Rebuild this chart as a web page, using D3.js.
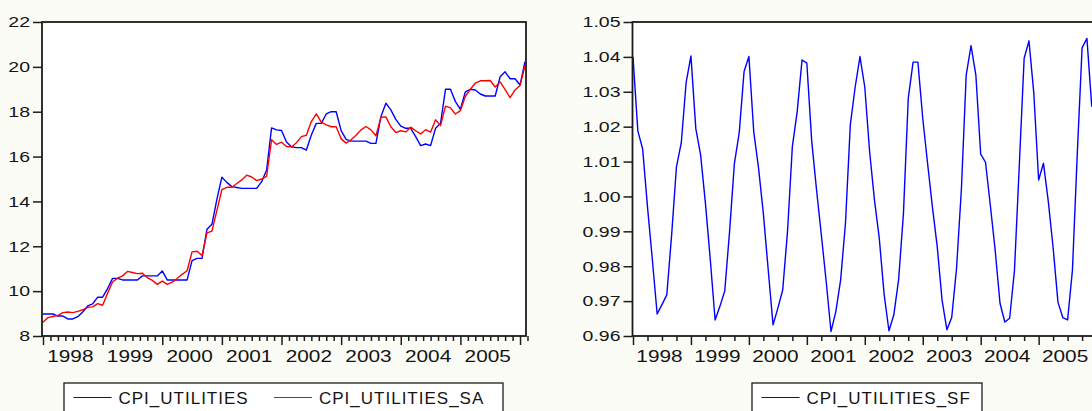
<!DOCTYPE html>
<html>
<head>
<meta charset="utf-8">
<script src="https://cdn.jsdelivr.net/npm/d3@7"></script>
<style>
  html, body { margin: 0; padding: 0; background: #fcfcf7; overflow: hidden; }
  svg { display: block; }
  text { font-family: "Liberation Sans", Arial, sans-serif; fill: #141414; }
</style>
</head>
<body>
<svg id="chart" width="1092" height="411"></svg>
<script>
// Monthly observations, 1998M01 onwards
const yearLabels = ["1998", "1999", "2000", "2001", "2002", "2003", "2004", "2005"];

const cpiUtilities = [
  8.98, 8.98, 8.98, 8.89, 8.89, 8.76, 8.76, 8.86, 9.07, 9.34, 9.43, 9.73,
  9.73, 10.11, 10.57, 10.57, 10.50, 10.50, 10.50, 10.50, 10.68, 10.68, 10.68, 10.68,
  10.90, 10.50, 10.50, 10.50, 10.50, 10.50, 11.36, 11.46, 11.46, 12.76, 12.98, 14.10,
  15.08, 14.85, 14.66, 14.62, 14.58, 14.58, 14.58, 14.58, 14.88, 15.40, 17.28, 17.19,
  17.16, 16.65, 16.44, 16.40, 16.40, 16.29, 16.96, 17.48, 17.48, 17.90, 18.00, 18.00,
  17.16, 16.77, 16.69, 16.69, 16.69, 16.69, 16.59, 16.59, 17.78, 18.38, 18.08, 17.66,
  17.36, 17.26, 17.26, 16.89, 16.49, 16.56, 16.49, 17.26, 17.48, 19.00, 19.00, 18.45,
  18.11, 18.89, 19.00, 18.97, 18.79, 18.70, 18.70, 18.70, 19.56, 19.78, 19.47, 19.47,
  19.19, 20.23
];

const cpiUtilitiesSA = [
  8.61, 8.82, 8.87, 8.92, 9.04, 9.07, 9.04, 9.10, 9.17, 9.28, 9.30, 9.44,
  9.37, 9.91, 10.41, 10.58, 10.68, 10.88, 10.83, 10.78, 10.80, 10.60, 10.48, 10.30,
  10.45, 10.30, 10.40, 10.56, 10.75, 10.91, 11.75, 11.78, 11.59, 12.60, 12.68, 13.60,
  14.53, 14.63, 14.63, 14.80, 14.96, 15.17, 15.09, 14.93, 15.00, 15.12, 16.75, 16.54,
  16.64, 16.45, 16.43, 16.62, 16.89, 16.95, 17.56, 17.90, 17.54, 17.41, 17.33, 17.33,
  16.79, 16.60, 16.75, 16.95, 17.19, 17.34, 17.19, 16.93, 17.75, 17.77, 17.33, 17.07,
  17.15, 17.10, 17.31, 17.15, 17.01, 17.20, 17.09, 17.64, 17.38, 18.25, 18.17, 17.90,
  18.05, 18.69, 19.00, 19.27, 19.38, 19.38, 19.39, 19.10, 19.33, 18.98, 18.63, 18.97,
  19.17, 20.05
];

const cpiUtilitiesSF = [
  1.0400, 1.0188, 1.0136, 0.9970, 0.9820, 0.9663, 0.9690, 0.9718, 0.9890, 1.0085, 1.0154, 1.0326,
  1.0403, 1.0195, 1.0119, 0.9980, 0.9820, 0.9646, 0.9685, 0.9729, 0.9900, 1.0095, 1.0183, 1.0358,
  1.0401, 1.0186, 1.0081, 0.9950, 0.9790, 0.9632, 0.9680, 0.9732, 0.9900, 1.0143, 1.0243, 1.0391,
  1.0382, 1.0160, 1.0020, 0.9890, 0.9757, 0.9613, 0.9670, 0.9761, 0.9923, 1.0205, 1.0313, 1.0401,
  1.0313, 1.0128, 0.9990, 0.9880, 0.9720, 0.9615, 0.9660, 0.9761, 0.9950, 1.0281, 1.0385, 1.0385,
  1.0224, 1.0095, 0.9970, 0.9856, 0.9703, 0.9618, 0.9653, 0.9794, 1.0020, 1.0348, 1.0432, 1.0348,
  1.0121, 1.0098, 0.9974, 0.9846, 0.9694, 0.9640, 0.9651, 0.9789, 1.0090, 1.0396, 1.0446, 1.0296,
  1.0047, 1.0095, 0.9986, 0.9853, 0.9697, 0.9653, 0.9646, 0.9789, 1.0122, 1.0426, 1.0453, 1.0257
];

const levelTicks = [8, 10, 12, 14, 16, 18, 20, 22];
const factorTicks = [0.96, 0.97, 0.98, 0.99, 1.00, 1.01, 1.02, 1.03, 1.04, 1.05];

const nObs = cpiUtilities.length;           // 98 months, 1998M01 - 2006M02
const svg = d3.select("#chart");
const TOP = 22, BOTTOM = 336;
const STRETCH = 1.3;                         // wide axis lettering

function panel(opt) {
  const g = svg.append("g");
  const x = d3.scaleLinear().domain([0, nObs - 1]).range([opt.x0, opt.x1]);
  const y = d3.scaleLinear().domain(opt.yDomain).range([BOTTOM, TOP]);

  // plot area
  g.append("rect")
    .attr("x", opt.frameL).attr("y", TOP)
    .attr("width", opt.frameR - opt.frameL).attr("height", BOTTOM - TOP)
    .attr("fill", "#ffffff");

  // series
  const line = d3.line().x((d, i) => x(i)).y(d => y(d));
  opt.series.forEach(s => {
    g.append("path")
      .datum(s.values)
      .attr("d", line)
      .attr("fill", "none")
      .attr("stroke", s.color)
      .attr("stroke-width", 1.4)
      .attr("stroke-linejoin", "round");
  });

  // frame
  g.append("rect")
    .attr("x", opt.frameL).attr("y", TOP)
    .attr("width", opt.frameR - opt.frameL).attr("height", BOTTOM - TOP)
    .attr("fill", "none").attr("stroke", "#1c1c1c").attr("stroke-width", 1.8);

  // y axis ticks
  const yAxis = d3.axisLeft(y).tickValues(opt.yTicks).tickSize(9).tickFormat("");
  const ya = g.append("g").attr("transform", `translate(${opt.frameL},0)`).call(yAxis);
  ya.select(".domain").remove();
  ya.selectAll("line").attr("stroke", "#1c1c1c").attr("stroke-width", 1.5);

  g.append("g").selectAll("text")
    .data(opt.yTicks)
    .join("text")
    .attr("transform", d => `translate(${opt.frameL - 12},${y(d) + 5.3}) scale(${STRETCH},1)`)
    .attr("text-anchor", "end")
    .attr("font-size", 15)
    .text(d => opt.yFormat(d));

  // x axis: yearly major ticks, finer minor ticks
  const majors = d3.range(0, nObs, 12);
  const minors = d3.range(0, nObs, opt.minorStep).filter(v => v % 12 !== 0);
  const xMajor = d3.axisBottom(x).tickValues(majors).tickSize(9).tickFormat("");
  const xMinor = d3.axisBottom(x).tickValues(minors).tickSize(5).tickFormat("");
  [xMajor, xMinor].forEach(ax => {
    const a = g.append("g").attr("transform", `translate(0,${BOTTOM})`).call(ax);
    a.select(".domain").remove();
    a.selectAll("line").attr("stroke", "#1c1c1c").attr("stroke-width", 1.5);
  });

  g.append("g").selectAll("text")
    .data(yearLabels)
    .join("text")
    .attr("transform", (d, i) => `translate(${x(i * 12 + 6) - 2.5},362) scale(${STRETCH},1)`)
    .attr("text-anchor", "middle")
    .attr("font-size", 16)
    .text(d => d);

  // legend
  const lg = g.append("g");
  lg.append("rect")
    .attr("x", opt.legend.x).attr("y", 383)
    .attr("width", opt.legend.w).attr("height", 40)
    .attr("fill", "#ffffff").attr("stroke", "#1c1c1c").attr("stroke-width", 1.3);
  opt.legend.items.forEach(it => {
    lg.append("line")
      .attr("x1", it.x).attr("x2", it.x + 38)
      .attr("y1", 397.5).attr("y2", 397.5)
      .attr("stroke", it.color).attr("stroke-width", 1.2);
    lg.append("text")
      .attr("x", it.x + 45).attr("y", 404)
      .attr("font-size", 17)
      .attr("letter-spacing", 1)
      .text(it.label);
  });
}

panel({
  x0: 43, x1: 525, frameL: 42, frameR: 526,
  yDomain: [8, 22], yTicks: levelTicks, yFormat: d3.format("d"),
  minorStep: 1.5,
  series: [
    { values: cpiUtilities, color: "#0000ff" },
    { values: cpiUtilitiesSA, color: "#ff0000" }
  ],
  legend: {
    x: 64, w: 439,
    items: [
      { x: 73.5, color: "#0000ff", label: "CPI_UTILITIES" },
      { x: 274, color: "#ff0000", label: "CPI_UTILITIES_SA" }
    ]
  }
});

panel({
  x0: 633, x1: 633 + 97 * 4.829, frameL: 632.5, frameR: 1102,
  yDomain: [0.96, 1.05], yTicks: factorTicks, yFormat: d3.format(".2f"),
  minorStep: 3,
  series: [
    { values: cpiUtilitiesSF, color: "#0000ff" }
  ],
  legend: {
    x: 752, w: 230,
    items: [
      { x: 761.5, color: "#0000ff", label: "CPI_UTILITIES_SF" }
    ]
  }
});
</script>
</body>
</html>
